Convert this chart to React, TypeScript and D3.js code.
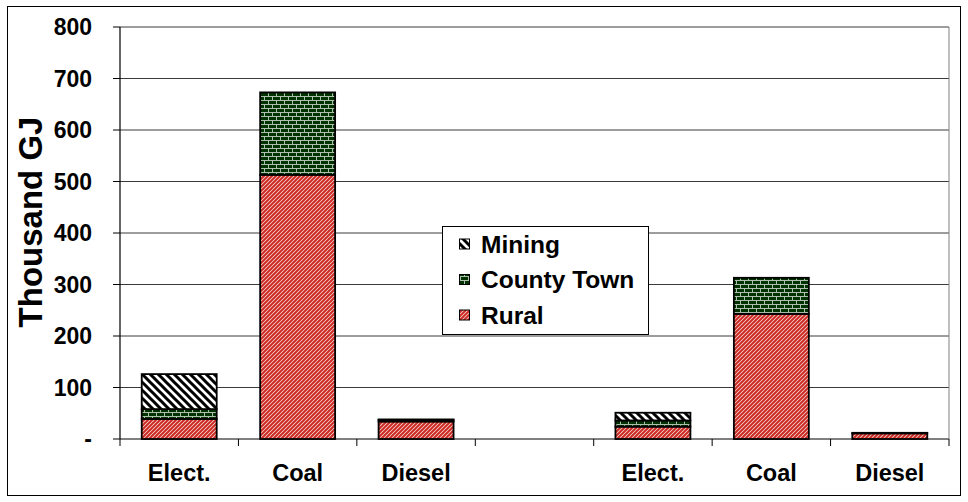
import React from "react";
import * as d3 from "d3";

const categories = ["Elect.", "Coal", "Diesel", "", "Elect.", "Coal", "Diesel"];
const rural = [39, 513, 34, 0, 24, 243, 11];
const countyTown = [19, 160, 3, 0, 12, 70, 1];
const mining = [68, 0, 1, 0, 15, 0, 0];
const yTicks = [0, 100, 200, 300, 400, 500, 600, 700, 800];
const seriesNames = ["Rural", "County Town", "Mining"];

const W = 968;
const H = 502;
const left = 120;
const right = 949;
const top = 27;
const bottom = 439;
const FONT = "'Liberation Sans', Arial, sans-serif";

export default function App() {
  const idx = categories.map((_, i) => i);
  const x = d3
    .scaleBand<number>()
    .domain(idx)
    .range([left, right])
    .paddingInner(0.367)
    .paddingOuter(0.367 / 2);
  const y = d3.scaleLinear().domain([0, 800]).range([bottom, top]);

  const rows = idx.map((i) => ({ i, rural: rural[i], county: countyTown[i], mining: mining[i] }));
  const stack = d3.stack<any>().keys(["rural", "county", "mining"]);
  const stacked = stack(rows);
  const fills = ["url(#pRural)", "url(#pCounty)", "url(#pMining)"];

  const step = x.step();
  const boundaries = d3.range(categories.length + 1).map((k) => left + k * step);

  const legendItems = [
    { name: seriesNames[2], fill: fills[2] },
    { name: seriesNames[1], fill: fills[1] },
    { name: seriesNames[0], fill: fills[0] },
  ];

  return (
    <svg width={W} height={H} style={{ display: "block", position: "absolute", left: 0, top: 0 }} fontFamily={FONT}>
      <defs>
        <pattern id="pRural" width="4" height="4" patternUnits="userSpaceOnUse">
          <rect width="4" height="4" fill="#f6dcd8" />
          <path d="M-1,1 L1,-1 M0,4 L4,0 M3,5 L5,3" stroke="#cc2a22" strokeWidth="2" />
        </pattern>
        <pattern id="pCounty" width="8" height="8" patternUnits="userSpaceOnUse">
          <rect width="8" height="8" fill="#003300" />
          <path d="M0,0.5 H8 M0,4.5 H8 M0.5,0 V4 M4.5,4 V8" stroke="#b0c0b0" strokeWidth="1" />
        </pattern>
        <pattern id="pMining" width="8" height="8" patternUnits="userSpaceOnUse">
          <rect width="8" height="8" fill="#ffffff" />
          <path d="M-1,-1 L9,9 M-1,7 L1,9 M7,-1 L9,1" stroke="#000" strokeWidth="3" />
        </pattern>
      </defs>

      <rect x={0} y={0} width={W} height={H} fill="#fff" />
      <rect x={7.5} y={6.5} width={953} height={489} fill="#fff" stroke="#000" strokeWidth={1} />

      {/* gridlines */}
      {yTicks.map((t) => (
        <line key={"g" + t} x1={left} x2={right} y1={y(t)} y2={y(t)} stroke={t === 0 ? "#000" : "#3a3a3a"} strokeWidth={1} />
      ))}
      <line x1={right} x2={right} y1={top} y2={bottom} stroke="#808080" strokeWidth={1} />

      {/* y axis */}
      <line x1={left} x2={left} y1={top} y2={bottom} stroke="#000" strokeWidth={1.2} />
      {yTicks.map((t) => (
        <line key={"t" + t} x1={left - 7} x2={left} y1={y(t)} y2={y(t)} stroke="#000" strokeWidth={1} />
      ))}
      {yTicks.map((t) => (
        <text key={"l" + t} x={92} y={y(t)} dy="0.35em" textAnchor="end" fontSize={23} fontWeight="bold" fill="#000">
          {t === 0 ? "-" : String(t)}
        </text>
      ))}

      {/* x axis ticks */}
      {boundaries.map((b, k) => (
        <line key={"b" + k} x1={b} x2={b} y1={bottom} y2={bottom + 7} stroke="#000" strokeWidth={1} />
      ))}
      {categories.map((c, i) => (
        <text key={"c" + i} x={(x(i) as number) + x.bandwidth() / 2} y={481} textAnchor="middle" fontSize={23.5} fontWeight="bold" fill="#000">
          {c}
        </text>
      ))}

      {/* bars */}
      {stacked.map((s, si) =>
        s.map((d, i) => {
          const h = y(d[0]) - y(d[1]);
          if (h <= 0) return null;
          return (
            <rect
              key={si + "-" + i}
              x={x(i) as number}
              y={y(d[1])}
              width={x.bandwidth()}
              height={h}
              fill={fills[si]}
              stroke="#000"
              strokeWidth={1.8}
            />
          );
        })
      )}

      {/* axis title */}
      <text transform="translate(42,222) rotate(-90)" textAnchor="middle" fontSize={33} fontWeight="bold" fill="#000">
        Thousand GJ
      </text>

      {/* legend */}
      <rect x={442.5} y={226.5} width={206} height={108} fill="#fff" stroke="#000" strokeWidth={1} />
      {legendItems.map((it, k) => {
        const cy = 244 + k * 35.5;
        return (
          <g key={it.name}>
            <rect x={459.5} y={cy - 5} width={10} height={10} fill={it.fill} stroke="#000" strokeWidth={1} />
            <text x={481} y={cy} dy="0.36em" fontSize={24.5} fontWeight="bold" fill="#000">
              {it.name}
            </text>
          </g>
        );
      })}
    </svg>
  );
}
